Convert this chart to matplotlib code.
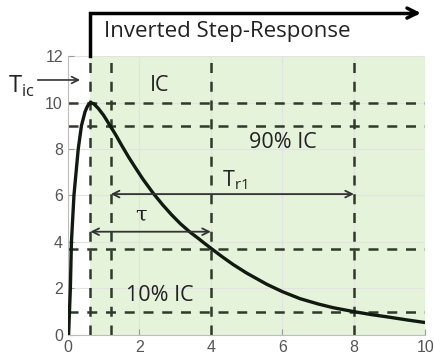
import matplotlib.pyplot as plt

# curve (time, temperature)
t_vals = [0.02, 0.07, 0.1, 0.17, 0.29, 0.38, 0.48, 0.55, 0.63, 0.72, 0.85, 1.0, 1.17,
          1.35, 1.5, 1.7, 1.87, 2.1, 2.39, 2.65, 2.9, 3.15, 3.41, 3.65, 3.83, 4.0, 4.3,
          4.62, 5.0, 5.56, 6.0, 6.49, 7.0, 7.42, 8.0, 8.5, 8.91, 9.5, 10.0]
y_vals = [0.0, 2.0, 4.0, 6.0, 8.0, 9.0, 9.6, 9.85, 10.0, 9.95, 9.75, 9.45, 9.03,
          8.58, 8.17, 7.65, 7.24, 6.7, 6.09, 5.6, 5.17, 4.78, 4.43, 4.15, 3.93, 3.73, 3.38,
          3.03, 2.66, 2.18, 1.86, 1.56, 1.33, 1.17, 1.0, 0.87, 0.78, 0.64, 0.53]

t_start = 0.63       # step time / peak
t_90 = 1.2           # 90% IC time
t_tau = 4.0
t_10 = 8.0
levels = [10, 9, 3.7, 1]
x_ticks = [0, 2, 4, 6, 8, 10]
y_ticks = [0, 2, 4, 6, 8, 10, 12]

dash_col = '#2f3a2b'
txt_font = 'Open Sans'
txt_col = '#222222'

fig = plt.figure(figsize=(4.35, 3.64), dpi=100)
ax = fig.add_axes([0.156, 0.08, 0.822, 0.766])

ax.set_xlim(0, 10)
ax.set_ylim(0, 12)
ax.set_xticks(x_ticks)
ax.set_yticks(y_ticks)
ax.grid(True, color='#e2e2e2', lw=0.8)
ax.set_axisbelow(True)
for s in ['top', 'right']:
    ax.spines[s].set_visible(False)
for s in ['left', 'bottom']:
    ax.spines[s].set_color('#bdbdbd')
ax.tick_params(direction='in', length=4, color='#9a9a9a', labelcolor='#555555',
               labelsize=11.5)
for lab in ax.get_xticklabels() + ax.get_yticklabels():
    lab.set_family('Liberation Sans')

ax.axvspan(t_start, 10, color='#e5f3da', zorder=0.5, lw=0)

dash = dict(color=dash_col, lw=1.8, dashes=(4, 3.5), zorder=2)
for yl in levels:
    ax.plot([0, 10], [yl, yl], **dash)
for xl in [t_start, t_90, t_tau, t_10]:
    ax.plot([xl, xl], [0, 12], **dash)

ax.plot(t_vals, y_vals, color='#111a11', lw=2.4, zorder=3, solid_joinstyle='round')

# step response arrow on top
ax.plot([t_start, t_start, 9.7], [12, 13.85, 13.85], color='black', lw=2.5,
        clip_on=False, solid_joinstyle='miter')
ax.annotate('', xy=(9.95, 13.85), xytext=(9.5, 13.85),
            arrowprops=dict(arrowstyle='->', lw=2.5, color='black',
                            mutation_scale=18), annotation_clip=False)
ax.text(1.0, 13.05, 'Inverted Step-Response', fontsize=16, family=txt_font,
        va='center', ha='left', color=txt_col)

# T_ic arrow
ax.annotate('', xy=(0.42, 10.97), xytext=(-0.92, 10.97),
            arrowprops=dict(arrowstyle='->', lw=1.2, color='#333333',
                            mutation_scale=12), annotation_clip=False)
ax.text(-1.68, 10.7, r'T$_{\mathregular{ic}}$', fontsize=17, family=txt_font,
        va='center', ha='left', color=txt_col)

# time constant arrows
ax.annotate('', xy=(t_start, 4.44), xytext=(t_tau, 4.44),
            arrowprops=dict(arrowstyle='<->', lw=1.3, color='#333333',
                            mutation_scale=12, shrinkA=0, shrinkB=0))
ax.annotate('', xy=(t_90, 6.06), xytext=(t_10, 6.06),
            arrowprops=dict(arrowstyle='<->', lw=1.3, color='#333333',
                            mutation_scale=12, shrinkA=0, shrinkB=0))

ax.text(2.04, 5.15, 'τ', fontsize=15, family='DejaVu Serif', ha='center', va='center',
        color=txt_col)
ax.text(4.3, 6.65, r'T$_{\mathregular{r1}}$', fontsize=15.5, family=txt_font,
        ha='left', va='center', color=txt_col)
ax.text(2.57, 10.75, 'IC', fontsize=15.5, family=txt_font, ha='center', va='center',
        color=txt_col)
ax.text(6.01, 8.26, '90% IC', fontsize=15.5, family=txt_font, ha='center', va='center',
        color=txt_col)
ax.text(2.57, 1.68, '10% IC', fontsize=15.5, family=txt_font, ha='center', va='center',
        color=txt_col)

fig.savefig('out.png', dpi=100)
